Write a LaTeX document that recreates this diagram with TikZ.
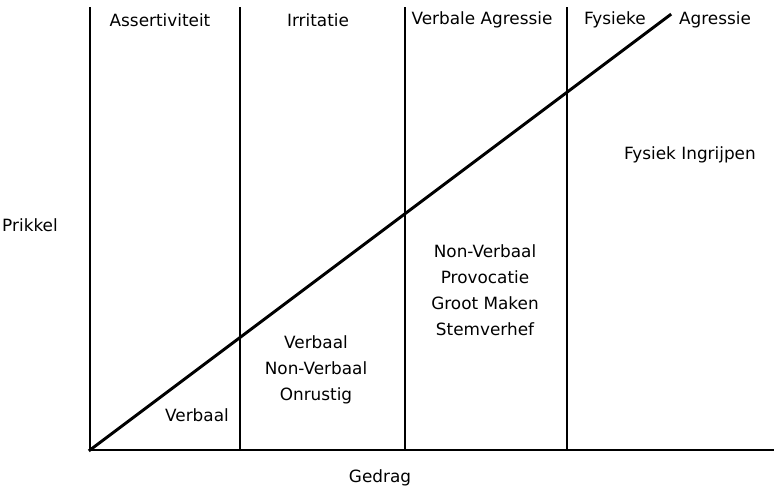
\documentclass[tikz,border=0pt]{standalone}
\usepackage{fontspec}
\setmainfont{DejaVu Sans}
\usepackage{tikz}

\tikzset{
  axis/.style={line width=2.1pt, line cap=rect},
  lbl/.style={font=\fontsize{12}{18.5}\selectfont, align=center, inner sep=0pt},
}

\begin{document}
\begin{tikzpicture}
        \useasboundingbox (-2.25,-1) rectangle (17.1,11.25);           %
        \coordinate (o)    at (0,0);                                    %
        \coordinate (top)  at (14.5,10.875);                            %
        \draw [axis]  (0,11.05) -- (o) -- (17.1,0);                     %assen
        \draw [axis]  (3.75,11.05) -- (3.75,0);                         %
        \draw [axis]  (7.875,11.05) -- (7.875,0);                       %
        \draw [axis]  (11.925,11.05) -- (11.925,0);                     %
        \draw [axis]  (o) -- (top);                                     %diagonaal
        \node [lbl] (ass)   at (1.75,10.75)   {Assertiviteit};          %
        \node [lbl] (irr)   at (5.7,10.75)    {Irritatie};              %
        \node [lbl] (verag) at (9.8,10.75)    {Verbale Agressie};       %
        \node [lbl] (fys)   at (13.125,10.75) {Fysieke};                %
        \node [lbl] (ag)    at (15.625,10.75) {Agressie};               %
        \node [lbl] (ingr)  at (15.0,7.375)   {Fysiek Ingrijpen};       %
        \node [lbl] (prik)  at (-1.5,5.625)   {Prikkel};                %
        \node [lbl] (nonv)  at (9.875,4.0)    {Non-Verbaal\\Provocatie\\Groot Maken\\Stemverhef};
        \node [lbl] (verb)  at (5.65,2.0)     {Verbaal\\Non-Verbaal\\Onrustig};
        \node [lbl] (verb0) at (2.675,0.875)  {Verbaal};                %
        \node [lbl] (ged)   at (7.25,-0.7)    {Gedrag};                 %
       \end{tikzpicture}
\end{document}
